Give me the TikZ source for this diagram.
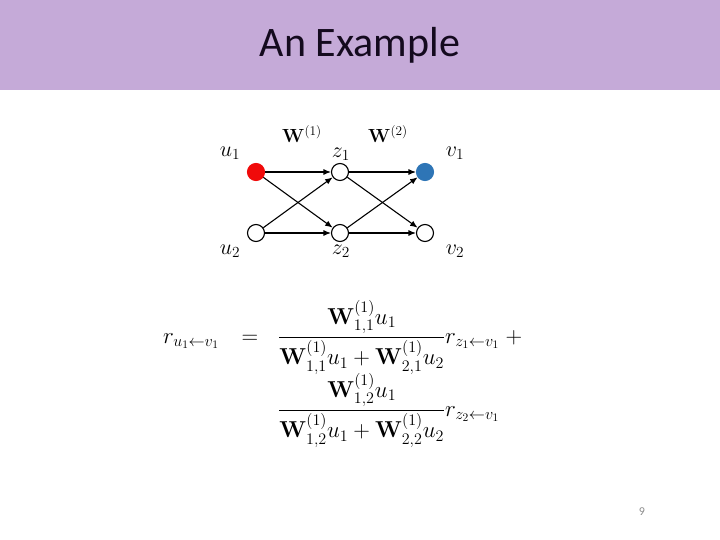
\documentclass[tikz,border=0pt]{standalone}
\usepackage{fix-cm}
\usepackage{amsmath}
\usepackage[no-math]{fontspec}
\setmainfont{Carlito}
\usetikzlibrary{arrows.meta}
\DeclareMathSizes{23}{23}{16.1}{11.5}
\DeclareMathSizes{22}{22}{15.4}{11}
\DeclareMathSizes{19}{19}{13.3}{9.5}
\definecolor{titlebg}{RGB}{197,170,216}
\definecolor{titletxt}{RGB}{20,10,30}
\definecolor{nodered}{RGB}{240,10,10}
\definecolor{nodeblue}{RGB}{46,117,182}
\definecolor{pagegray}{RGB}{140,140,140}
\begin{document}
\begin{tikzpicture}[x=1pt,y=-1pt,
  neuron/.style={circle,draw=black,line width=1.1pt,minimum size=17pt,inner sep=0pt,fill=white},
  lbl/.style={inner sep=0pt,font=\fontsize{22}{26}\selectfont},
  wlbl/.style={inner sep=0pt,font=\fontsize{19}{23}\selectfont},
  conn/.style={line width=1.1pt,-{Latex[length=7.5pt,width=6pt]}},
  eqn/.style={inner sep=0pt,anchor=base west,font=\fontsize{23}{27}\selectfont}]
\useasboundingbox (0,0) rectangle (720,540);
\fill[titlebg] (0,0) rectangle (720,90);
\node[anchor=base,inner sep=0pt,text=titletxt,font=\fontsize{42}{50}\selectfont] (title) at (360,57) {An Example};
% network
\node[neuron,fill=nodered,draw=nodered] (u1) at (256,172) {};
\node[neuron] (u2) at (256,233) {};
\node[neuron] (z1) at (340,172) {};
\node[neuron] (z2) at (340,233) {};
\node[neuron,fill=nodeblue,draw=nodeblue] (v1) at (425,172) {};
\node[neuron] (v2) at (425,233) {};
\draw[conn] (u1) -- (z1);
\draw[conn] (u1) -- (z2);
\draw[conn] (u2) -- (z1);
\draw[conn] (u2) -- (z2);
\draw[conn] (z1) -- (v1);
\draw[conn] (z1) -- (v2);
\draw[conn] (z2) -- (v1);
\draw[conn] (z2) -- (v2);
\node[lbl] (lu1) at (230,153) {$u_1$};
\node[lbl] (lu2) at (230,251) {$u_2$};
\node[lbl] (lz1) at (341,154) {$z_1$};
\node[lbl] (lz2) at (341,251) {$z_2$};
\node[lbl] (lv1) at (455,153) {$v_1$};
\node[lbl] (lv2) at (455,251) {$v_2$};
\node[wlbl] (w1) at (302,134) {$\mathbf{W}^{(1)}$};
\node[wlbl] (w2) at (388,134) {$\mathbf{W}^{(2)}$};
% equation
\node[eqn] (rl) at (163,343) {$r_{u_1\leftarrow v_1}$};
\node[eqn,anchor=base] (eq) at (250,343) {$=$};
\node[eqn] (f1) at (278,343) {$\dfrac{\mathbf{W}^{(1)}_{1,1}u_1}{\mathbf{W}^{(1)}_{1,1}u_1+\mathbf{W}^{(1)}_{2,1}u_2}r_{z_1\leftarrow v_1}$};
\node[eqn,anchor=base] (plus) at (514,343) {$+$};
\node[eqn] (f2) at (278,416) {$\dfrac{\mathbf{W}^{(1)}_{1,2}u_1}{\mathbf{W}^{(1)}_{1,2}u_1+\mathbf{W}^{(1)}_{2,2}u_2}r_{z_2\leftarrow v_1}$};
% page number
\node[anchor=base,inner sep=0pt,text=pagegray,font=\fontsize{12}{14}\selectfont] (pg) at (642,515) {9};
\end{tikzpicture}
\end{document}
